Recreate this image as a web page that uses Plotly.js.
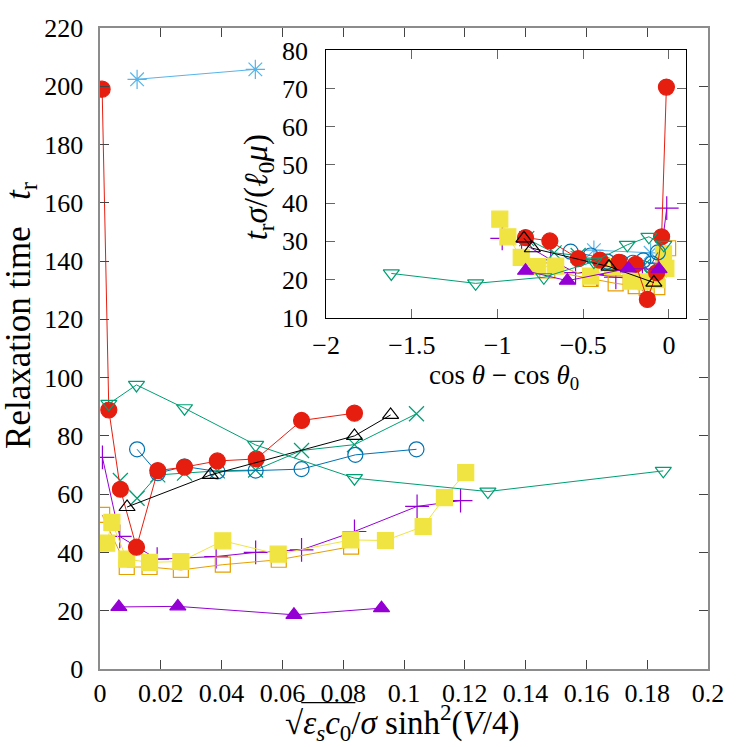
<!DOCTYPE html>
<html>
<head>
<meta charset="utf-8">
<script src="https://cdn.plot.ly/plotly-3.0.1.min.js"></script>
<style>html,body{margin:0;padding:0;background:#fff;}#chart{width:747px;height:747px;}</style>
</head>
<body>
<div id="chart"></div>
<script>
// ---- main plot data (x: sqrt(eps_s c0)/sigma sinh^2(V/4), y: relaxation time) ----
const plusX = [0.0008, 0.0065, 0.0188, 0.0382, 0.0512, 0.0663, 0.0837, 0.1043, 0.1186];
const plusY = [72.6, 45.5, 37.7, 38.6, 40.0, 40.9, 47.2, 55.8, 57.8];
const crossX = [0.0067, 0.0122, 0.019, 0.0278, 0.0386, 0.0512, 0.0663, 0.0837, 0.1041];
const crossY = [64.7, 58.6, 66.6, 67.2, 68.0, 68.3, 75.0, 77.0, 87.6];
const starX = [0.0122, 0.0511];
const starY = [202.4, 205.8];
const openSqX = [0.0007, 0.0088, 0.0163, 0.0266, 0.0404, 0.0588, 0.0826];
const openSqY = [52.9, 35.0, 35.0, 34.0, 35.8, 37.5, 42.0];
const fillSqX = [0.0022, 0.0039, 0.0088, 0.0163, 0.0266, 0.0404, 0.0586, 0.0824, 0.0939, 0.1063, 0.1133, 0.1203];
const fillSqY = [43.2, 50.3, 37.7, 36.6, 36.9, 44.0, 39.4, 44.3, 44.1, 48.9, 58.8, 67.4];
const openCircX = [0.0122, 0.019, 0.0278, 0.0386, 0.0512, 0.0663, 0.084, 0.1041];
const openCircY = [75.4, 67.2, 69.5, 67.8, 68.1, 68.6, 73.5, 75.4];
const fillCircX = [0.0007, 0.0029, 0.0067, 0.012, 0.019, 0.0278, 0.0386, 0.0514, 0.0663, 0.0837];
const fillCircY = [199.0, 88.9, 61.7, 41.8, 68.1, 69.3, 71.4, 72.1, 85.3, 87.8];
const openTriX = [0.0089, 0.0363, 0.0837, 0.0956];
const openTriY = [55.6, 66.6, 80.0, 87.2];
const fillTriX = [0.0062, 0.0256, 0.0638, 0.0926];
const fillTriY = [21.3, 21.5, 18.6, 20.9];
const downTriX = [0.0029, 0.012, 0.0278, 0.0512, 0.0837, 0.1276, 0.1853];
const downTriY = [91.0, 97.5, 89.5, 76.9, 65.5, 60.9, 68.0];

// ---- inset data (x: cos(theta) - cos(theta0), y: t_r sigma / (l0 mu)) ----
const plusInX = [-0.013, -0.053, -0.155, -0.31, -0.42, -0.545, -0.69, -0.86, -0.973];
const plusInY = [38.7, 24.3, 20.1, 20.6, 21.3, 21.8, 25.2, 29.7, 30.8];
const crossInX = [-0.055, -0.1, -0.155, -0.225, -0.31, -0.41, -0.53, -0.67, -0.83];
const crossInY = [22.6, 20.5, 23.3, 23.5, 23.8, 23.9, 26.3, 27.0, 30.7];
const starInX = [-0.107, -0.438];
const starInY = [27.0, 27.7];
const openSqInX = [-0.005, -0.068, -0.13, -0.194, -0.311, -0.457, -0.71];
const openSqInY = [28.2, 18.0, 17.8, 18.3, 19.0, 20.2, 22.4];
const fillSqInX = [-0.018, -0.032, -0.072, -0.134, -0.22, -0.33, -0.457, -0.661, -0.765, -0.862, -0.94, -0.987];
const fillSqInY = [22.9, 26.7, 20.0, 19.4, 19.6, 23.4, 20.9, 23.5, 23.4, 25.8, 31.2, 35.8];
const openCircInX = [-0.065, -0.1, -0.15, -0.21, -0.28, -0.36, -0.457, -0.574];
const openCircInY = [27.1, 24.2, 25.0, 24.4, 24.5, 24.7, 26.3, 27.3];
const fillCircInX = [-0.015, -0.043, -0.072, -0.126, -0.194, -0.292, -0.403, -0.529, -0.695, -0.837];
const fillCircInY = [70.4, 31.2, 21.8, 14.8, 24.0, 24.5, 25.1, 25.5, 30.1, 31.0];
const openTriInX = [-0.088, -0.35, -0.797, -0.846];
const openTriInY = [19.2, 23.4, 28.2, 30.8];
const fillTriInX = [-0.058, -0.237, -0.593, -0.837];
const fillTriInY = [22.7, 22.9, 19.7, 22.3];
const downTriInX = [-0.03, -0.117, -0.243, -0.438, -0.73, -1.128, -1.62];
const downTriInY = [29.1, 31.2, 29.1, 24.7, 20.6, 19.0, 21.6];

// ---- tick labels ----
const mainXTicks = [0, 0.02, 0.04, 0.06, 0.08, 0.1, 0.12, 0.14, 0.16, 0.18, 0.2];
const mainXTickText = ["0", "0.02", "0.04", "0.06", "0.08", "0.1", "0.12", "0.14", "0.16", "0.18", "0.2"];
const mainYTicks = [0, 20, 40, 60, 80, 100, 120, 140, 160, 180, 200, 220];
const insetXTicks = [-2, -1.5, -1, -0.5, 0];
const insetXTickText = ["\u22122", "\u22121.5", "\u22121", "\u22120.5", "0"];
const insetYTicks = [10, 20, 30, 40, 50, 60, 70, 80];

// ---- styles ----
const styles = [
  {main: [plusX, plusY], inset: [plusInX, plusInY], color: '#9400d3', symbol: 'cross-thin-open', size: 17},
  {main: [crossX, crossY], inset: [crossInX, crossInY], color: '#009e73', symbol: 'x-thin-open', size: 15},
  {main: [starX, starY], inset: [starInX, starInY], color: '#56b4e9', symbol: 'asterisk-open', size: 16},
  {main: [openSqX, openSqY], inset: [openSqInX, openSqInY], color: '#e69f00', symbol: 'square-open', size: 15},
  {main: [fillSqX, fillSqY], inset: [fillSqInX, fillSqInY], color: '#f0e442', symbol: 'square', size: 16},
  {main: [openCircX, openCircY], inset: [openCircInX, openCircInY], color: '#0072b2', symbol: 'circle-open', size: 15},
  {main: [fillCircX, fillCircY], inset: [fillCircInX, fillCircInY], color: '#e51e10', symbol: 'circle', size: 16},
  {main: [openTriX, openTriY], inset: [openTriInX, openTriInY], color: '#000000', symbol: 'triangle-up-open', size: 14},
  {main: [fillTriX, fillTriY], inset: [fillTriInX, fillTriInY], color: '#9400d3', symbol: 'triangle-up', size: 14},
  {main: [downTriX, downTriY], inset: [downTriInX, downTriInY], color: '#009e73', symbol: 'triangle-down-open', size: 14}
];

const traces = [];
styles.forEach(s => {
  const mk = {symbol: s.symbol, size: s.size, color: s.color, line: {color: s.color, width: 1.2}};
  traces.push({x: s.main[0], y: s.main[1], mode: 'lines+markers', type: 'scatter',
    line: {color: s.color, width: 1}, marker: mk, xaxis: 'x', yaxis: 'y', showlegend: false, hoverinfo: 'skip'});
});
styles.forEach(s => {
  const mk = {symbol: s.symbol, size: s.size, color: s.color, line: {color: s.color, width: 1.2}};
  traces.push({x: s.inset[0], y: s.inset[1], mode: 'lines+markers', type: 'scatter',
    line: {color: s.color, width: 1}, marker: mk, xaxis: 'x2', yaxis: 'y2', showlegend: false, hoverinfo: 'skip'});
});

const FONT = 'Liberation Serif, Times New Roman, serif';
const tickFont = {family: FONT, size: 26, color: '#000'};

const layout = {
  width: 747, height: 747,
  margin: {l: 100, r: 39, t: 28, b: 78, pad: 0},
  paper_bgcolor: '#fff', plot_bgcolor: '#fff',
  showlegend: false,
  font: {family: FONT, size: 26, color: '#000'},
  xaxis: {
    domain: [0, 1], range: [0, 0.2], anchor: 'y',
    tickvals: mainXTicks, ticktext: mainXTickText,
    ticks: 'inside', ticklen: 9, tickwidth: 1, tickcolor: '#444',
    showline: true, linecolor: '#8c8c8c', linewidth: 1.6, mirror: 'ticks',
    showgrid: false, zeroline: false, tickfont: tickFont, ticklabelstandoff: 0
  },
  yaxis: {
    domain: [0, 1], range: [0, 220], anchor: 'x',
    tickvals: mainYTicks,
    ticks: 'inside', ticklen: 9, tickwidth: 1, tickcolor: '#444',
    showline: true, linecolor: '#8c8c8c', linewidth: 1.6, mirror: 'ticks',
    showgrid: false, zeroline: false, tickfont: tickFont, ticklabelstandoff: 10
  },
  xaxis2: {
    domain: [0.372, 0.964], range: [-2, 0.1], anchor: 'y2',
    tickvals: insetXTicks, ticktext: insetXTickText,
    ticks: 'inside', ticklen: 9, tickwidth: 1, tickcolor: '#666',
    showline: true, linecolor: '#000', linewidth: 1, mirror: 'ticks',
    showgrid: false, zeroline: false, tickfont: tickFont, ticklabelstandoff: 4
  },
  yaxis2: {
    domain: [0.548, 0.965], range: [10, 80], anchor: 'x2',
    tickvals: insetYTicks,
    ticks: 'inside', ticklen: 9, tickwidth: 1, tickcolor: '#666',
    showline: true, linecolor: '#000', linewidth: 1, mirror: 'ticks',
    showgrid: false, zeroline: false, tickfont: tickFont, ticklabelstandoff: 12
  },
  annotations: [
    {xref: 'paper', yref: 'paper', x: -0.132, y: 0.552, textangle: -90, showarrow: false,
     xanchor: 'center', yanchor: 'middle', font: {family: FONT, size: 35},
     text: 'Relaxation time \u2002<i>t</i><sub>r</sub>'},
    {xref: 'paper', yref: 'paper', x: 0.301, y: -0.084, showarrow: false,
     xanchor: 'left', yanchor: 'middle', font: {family: FONT, size: 33},
     text: '\u221A<i>\u03B5<sub>s</sub>c</i><sub>0</sub>/<i>\u03C3</i> sinh<sup>2</sup>(<i>V</i>/4)'},
    {xref: 'paper', yref: 'paper', x: 0.261, y: 0.751, textangle: -90, showarrow: false,
     xanchor: 'center', yanchor: 'middle', font: {family: FONT, size: 33},
     text: '<i>t</i><sub>r</sub><i>\u03C3</i>/(<i>\u2113</i><sub>0</sub><i>\u03BC</i>)'},
    {xref: 'paper', yref: 'paper', x: 0.664, y: 0.455, showarrow: false,
     xanchor: 'center', yanchor: 'middle', font: {family: FONT, size: 27},
     text: 'cos <i>\u03B8</i> \u2212 cos <i>\u03B8</i><sub>0</sub>'}
  ],
  shapes: [
    {type: 'line', xref: 'paper', yref: 'paper', x0: 0.331, x1: 0.42, y0: -0.0525, y1: -0.0525,
     line: {color: '#000', width: 1.3}}
  ]
};

Plotly.newPlot('chart', traces, layout, {staticPlot: true, displayModeBar: false});
</script>
</body>
</html>
